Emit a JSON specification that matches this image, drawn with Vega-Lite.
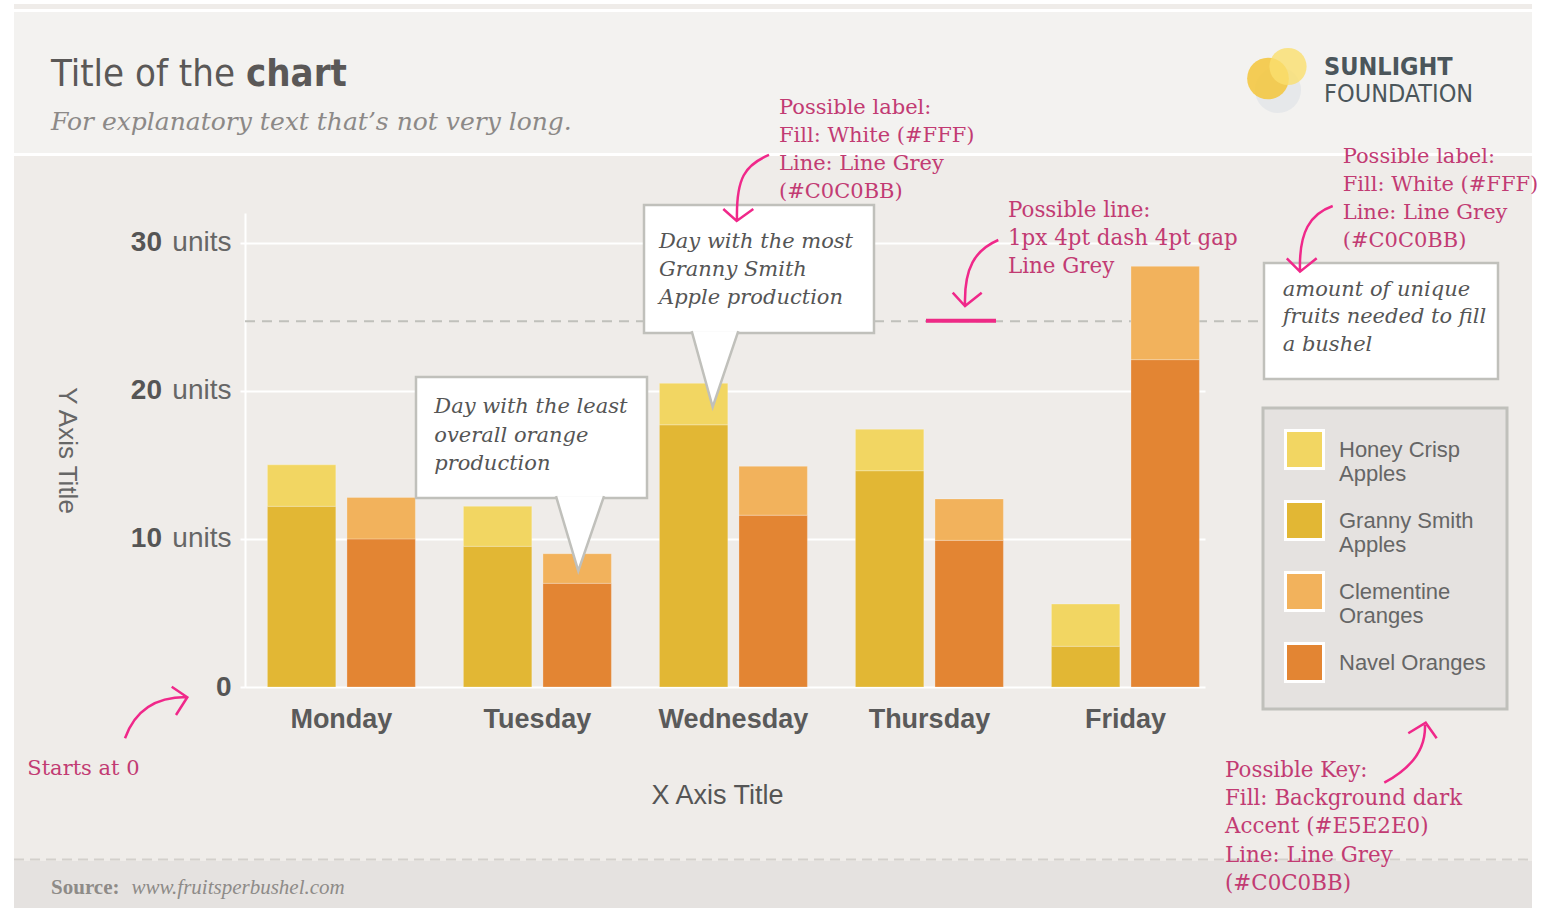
{
  "$schema": "https://vega.github.io/schema/vega-lite/v6.json",
  "width": 960,
  "height": 474,
  "autosize": {"type": "none"},
  "padding": {"left": 245, "top": 213, "right": 345, "bottom": 221},
  "background": "#EFECE9",
  "config": {
    "view": {"stroke": null},
    "legend": {"strokeWidth": 3}
  },
  "datasets": {
    "fruit": [
      {"day": "Monday", "fruit": "Apples", "variety": "Granny Smith Apples", "units": 12.2},
      {"day": "Monday", "fruit": "Apples", "variety": "Honey Crisp Apples", "units": 2.8},
      {"day": "Monday", "fruit": "Oranges", "variety": "Navel Oranges", "units": 10.0},
      {"day": "Monday", "fruit": "Oranges", "variety": "Clementine Oranges", "units": 2.8},
      {"day": "Tuesday", "fruit": "Apples", "variety": "Granny Smith Apples", "units": 9.5},
      {"day": "Tuesday", "fruit": "Apples", "variety": "Honey Crisp Apples", "units": 2.7},
      {"day": "Tuesday", "fruit": "Oranges", "variety": "Navel Oranges", "units": 7.0},
      {"day": "Tuesday", "fruit": "Oranges", "variety": "Clementine Oranges", "units": 2.0},
      {"day": "Wednesday", "fruit": "Apples", "variety": "Granny Smith Apples", "units": 17.7},
      {"day": "Wednesday", "fruit": "Apples", "variety": "Honey Crisp Apples", "units": 2.8},
      {"day": "Wednesday", "fruit": "Oranges", "variety": "Navel Oranges", "units": 11.6},
      {"day": "Wednesday", "fruit": "Oranges", "variety": "Clementine Oranges", "units": 3.3},
      {"day": "Thursday", "fruit": "Apples", "variety": "Granny Smith Apples", "units": 14.6},
      {"day": "Thursday", "fruit": "Apples", "variety": "Honey Crisp Apples", "units": 2.8},
      {"day": "Thursday", "fruit": "Oranges", "variety": "Navel Oranges", "units": 9.9},
      {"day": "Thursday", "fruit": "Oranges", "variety": "Clementine Oranges", "units": 2.8},
      {"day": "Friday", "fruit": "Apples", "variety": "Granny Smith Apples", "units": 2.75},
      {"day": "Friday", "fruit": "Apples", "variety": "Honey Crisp Apples", "units": 2.85},
      {"day": "Friday", "fruit": "Oranges", "variety": "Navel Oranges", "units": 22.1},
      {"day": "Friday", "fruit": "Oranges", "variety": "Clementine Oranges", "units": 6.3}
    ],
    "varieties": [
      {"variety": "Honey Crisp Apples", "keyOrder": 1},
      {"variety": "Granny Smith Apples", "keyOrder": 2},
      {"variety": "Clementine Oranges", "keyOrder": 3},
      {"variety": "Navel Oranges", "keyOrder": 4}
    ]
  },
  "layer": [
    {
      "data": {"values": [{}]},
      "layer": [
        {"mark": {"type": "rect", "fill": "#FFFFFF"}, "encoding": {"x": {"datum": -1.776, "type": "quantitative", "scale": {"domain": [-0.5, 4.4], "nice": false, "zero": false}, "axis": null}, "x2": {"datum": -1.679}, "y": {"datum": 46.72, "type": "quantitative"}, "y2": {"datum": -15.26}}},
        {"mark": {"type": "rect", "fill": "#FFFFFF"}, "encoding": {"x": {"datum": 6.069, "type": "quantitative", "scale": {"domain": [-0.5, 4.4], "nice": false, "zero": false}, "axis": null}, "x2": {"datum": 6.187}, "y": {"datum": 46.72, "type": "quantitative"}, "y2": {"datum": -15.26}}},
        {"mark": {"type": "rect", "fill": "#FFFFFF"}, "encoding": {"x": {"datum": -1.776, "type": "quantitative", "scale": {"domain": [-0.5, 4.4], "nice": false, "zero": false}, "axis": null}, "x2": {"datum": 6.187}, "y": {"datum": 46.72, "type": "quantitative"}, "y2": {"datum": 46.11}}},
        {"mark": {"type": "rect", "fill": "#FFFFFF"}, "encoding": {"x": {"datum": -1.679, "type": "quantitative", "scale": {"domain": [-0.5, 4.4], "nice": false, "zero": false}, "axis": null}, "x2": {"datum": 6.069}, "y": {"datum": 45.77, "type": "quantitative"}, "y2": {"datum": 35.85}}},
        {"mark": {"type": "rect", "fill": "#F3F2F0"}, "encoding": {"x": {"datum": -1.679, "type": "quantitative", "scale": {"domain": [-0.5, 4.4], "nice": false, "zero": false}, "axis": null}, "x2": {"datum": 6.069}, "y": {"datum": 45.57, "type": "quantitative"}, "y2": {"datum": 36.05}}},
        {"mark": {"type": "rect", "fill": "#E5E2E0"}, "encoding": {"x": {"datum": -1.679, "type": "quantitative", "scale": {"domain": [-0.5, 4.4], "nice": false, "zero": false}, "axis": null}, "x2": {"datum": 6.069}, "y": {"datum": -11.75, "type": "quantitative"}, "y2": {"datum": -15.26}}},
        {"mark": {"type": "rule", "stroke": "#D3D0CC", "strokeWidth": 2, "strokeDash": [10, 6]}, "encoding": {"x": {"datum": -1.679, "type": "quantitative", "scale": {"domain": [-0.5, 4.4], "nice": false, "zero": false}, "axis": null}, "x2": {"datum": 6.069}, "y": {"datum": -11.65, "type": "quantitative"}}},
        {"mark": {"type": "rule", "stroke": "#C0C0BB", "strokeWidth": 2, "strokeDash": [10, 7]}, "encoding": {"x": {"datum": -0.5, "type": "quantitative", "scale": {"domain": [-0.5, 4.4], "nice": false, "zero": false}, "axis": null}, "x2": {"datum": 4.701}, "y": {"datum": 24.7, "type": "quantitative"}}}
      ]
    },
    {
      "data": {"name": "fruit"},
      "transform": [
        {"lookup": "variety", "from": {"data": {"name": "varieties"}, "key": "variety", "fields": ["keyOrder"]}}
      ],
      "mark": {"type": "bar", "stroke": "#FFFFFF", "strokeOpacity": 0.25, "strokeWidth": 1},
      "encoding": {
        "x": {
          "field": "day", "type": "nominal",
          "sort": ["Monday", "Tuesday", "Wednesday", "Thursday", "Friday"],
          "scale": {"paddingInner": 0.245, "paddingOuter": 0.0714, "align": 0.8},
          "axis": {
            "title": "X Axis Title", "domain": false, "ticks": false, "tickSize": 0, "grid": false,
            "labelFont": "Liberation Sans", "labelFontSize": 27, "labelFontWeight": "bold", "labelColor": "#5A5A5A",
            "labelBaseline": "middle", "labelPadding": 32, "labelAngle": 0,
            "titleFont": "Liberation Sans", "titleFontSize": 27, "titleFontWeight": "normal", "titleColor": "#555555",
            "titleX": 472, "titleY": 108, "titleAlign": "center", "titleBaseline": "middle"
          }
        },
        "xOffset": {"field": "fruit", "type": "nominal", "scale": {"paddingInner": 0.14, "paddingOuter": 0}},
        "y": {
          "field": "units", "type": "quantitative", "stack": "zero",
          "scale": {"domain": [0, 32], "nice": false},
          "axis": {
            "title": "Y Axis Title", "values": [0, 10, 20, 30],
            "grid": true, "gridColor": "#FFFFFF", "gridWidth": 2, "gridOpacity": 1,
            "domain": true, "domainColor": "#FFFFFF", "domainWidth": 2,
            "ticks": true, "tickColor": "#FFFFFF", "tickWidth": 2, "tickSize": 5,
            "labelExpr": "datum.value == 0 ? '0' : 'units'",
            "labelFont": "Liberation Sans", "labelFontSize": 28,
            "labelFontWeight": {"condition": {"test": "datum.value == 0", "value": "bold"}, "value": "normal"},
            "labelColor": {"condition": {"test": "datum.value == 0", "value": "#555555"}, "value": "#666666"},
            "labelPadding": 9,
            "titleAngle": 90, "titleX": -179, "titleY": 237, "titleAlign": "center", "titleBaseline": "middle",
            "titleFont": "Liberation Sans", "titleFontSize": 26, "titleFontWeight": "normal", "titleColor": "#666666"
          }
        },
        "color": {
          "field": "variety", "type": "nominal",
          "scale": {
            "domain": ["Honey Crisp Apples", "Granny Smith Apples", "Clementine Oranges", "Navel Oranges"],
            "range": ["#F2D662", "#E2B734", "#F2B25C", "#E38533"]
          },
          "legend": {
            "title": null, "orient": "none", "legendX": 1018, "legendY": 195, "direction": "vertical",
            "fillColor": "#E5E2E0", "strokeColor": "#C0C0BB", "padding": 21,
            "symbolType": "square", "symbolSize": 1444, "symbolStrokeColor": "#FFFFFF", "symbolStrokeWidth": 3, "symbolOpacity": 1,
            "labelFont": "Liberation Sans", "labelFontSize": 22, "labelColor": "#666666", "labelOffset": 14, "labelLimit": 220,
            "rowPadding": 10,
            "labelExpr": "datum.label == 'Navel Oranges' ? datum.label : [substring(datum.label, 0, lastindexof(datum.label, ' ')), substring(datum.label, lastindexof(datum.label, ' ') + 1)]"
          }
        },
        "order": {"field": "keyOrder", "sort": "descending"}
      }
    },
    {
      "data": {"values": [{}]},
      "layer": [
        {"mark": {"type": "rect", "fill": "#FFFFFF", "stroke": "#C0C0BB", "strokeWidth": 2.5}, "encoding": {"x": {"datum": 1.5366, "type": "quantitative", "scale": {"domain": [-0.5, 4.4], "nice": false, "zero": false}, "axis": null}, "x2": {"datum": 2.7105}, "y": {"datum": 32.54, "type": "quantitative"}, "y2": {"datum": 23.9}}},
        {"mark": {"type": "point", "shape": "M-0.63,-1.05L-0.062,1L0.63,-1.05", "size": 5476, "filled": true, "fill": "#FFFFFF", "stroke": "#C0C0BB", "strokeWidth": 2.5, "opacity": 1}, "encoding": {"x": {"datum": 1.8989, "type": "quantitative", "scale": {"domain": [-0.5, 4.4], "nice": false, "zero": false}, "axis": null}, "y": {"datum": 21.4, "type": "quantitative"}}},
        {"mark": {"type": "rect", "fill": "#FFFFFF", "stroke": "#C0C0BB", "strokeWidth": 2.5}, "encoding": {"x": {"datum": 0.3728, "type": "quantitative", "scale": {"domain": [-0.5, 4.4], "nice": false, "zero": false}, "axis": null}, "x2": {"datum": 1.5519}, "y": {"datum": 20.93, "type": "quantitative"}, "y2": {"datum": 12.76}}},
        {"mark": {"type": "point", "shape": "M-0.66,-1.05L-0.047,1L0.66,-1.05", "size": 5299, "filled": true, "fill": "#FFFFFF", "stroke": "#C0C0BB", "strokeWidth": 2.5, "opacity": 1}, "encoding": {"x": {"datum": 1.2099, "type": "quantitative", "scale": {"domain": [-0.5, 4.4], "nice": false, "zero": false}, "axis": null}, "y": {"datum": 10.3, "type": "quantitative"}}},
        {"mark": {"type": "rect", "fill": "#FFFFFF", "stroke": "#C0C0BB", "strokeWidth": 2.5}, "encoding": {"x": {"datum": 4.7011, "type": "quantitative", "scale": {"domain": [-0.5, 4.4], "nice": false, "zero": false}, "axis": null}, "x2": {"datum": 5.8955}, "y": {"datum": 28.62, "type": "quantitative"}, "y2": {"datum": 20.79}}},
        {"mark": {"type": "text", "text": ["Day with the most", "Granny Smith", "Apple production"], "align": "left", "baseline": "alphabetic", "font": "DejaVu Serif", "fontStyle": "italic", "fontSize": 21, "lineHeight": 28, "color": "#555555"}, "encoding": {"x": {"datum": 1.6131, "type": "quantitative", "scale": {"domain": [-0.5, 4.4], "nice": false, "zero": false}, "axis": null}, "y": {"datum": 29.62, "type": "quantitative"}}},
        {"mark": {"type": "text", "text": ["Day with the least", "overall orange", "production"], "align": "left", "baseline": "alphabetic", "font": "DejaVu Serif", "fontStyle": "italic", "fontSize": 21, "lineHeight": 28.5, "color": "#555555"}, "encoding": {"x": {"datum": 0.4662, "type": "quantitative", "scale": {"domain": [-0.5, 4.4], "nice": false, "zero": false}, "axis": null}, "y": {"datum": 18.48, "type": "quantitative"}}},
        {"mark": {"type": "text", "text": ["amount of unique", "fruits needed to fill", "a bushel"], "align": "left", "baseline": "alphabetic", "font": "DejaVu Serif", "fontStyle": "italic", "fontSize": 21, "lineHeight": 27.5, "color": "#555555"}, "encoding": {"x": {"datum": 4.7966, "type": "quantitative", "scale": {"domain": [-0.5, 4.4], "nice": false, "zero": false}, "axis": null}, "y": {"datum": 26.42, "type": "quantitative"}}},
        {"mark": {"type": "rule", "stroke": "#EE2A86", "strokeWidth": 4}, "encoding": {"x": {"datum": 2.9759, "type": "quantitative", "scale": {"domain": [-0.5, 4.4], "nice": false, "zero": false}, "axis": null}, "x2": {"datum": 3.3332}, "y": {"datum": 24.72, "type": "quantitative"}}},
        {"mark": {"type": "text", "text": ["Possible label:", "Fill: White (#FFF)", "Line: Line Grey", "(#C0C0BB)"], "align": "left", "baseline": "alphabetic", "font": "DejaVu Serif", "fontSize": 21, "lineHeight": 28, "color": "#C23B73"}, "encoding": {"x": {"datum": 2.2256, "type": "quantitative", "scale": {"domain": [-0.5, 4.4], "nice": false, "zero": false}, "axis": null}, "y": {"datum": 38.68, "type": "quantitative"}}},
        {"mark": {"type": "text", "text": ["Possible line:", "1px 4pt dash 4pt gap", "Line Grey"], "align": "left", "baseline": "alphabetic", "font": "DejaVu Serif", "fontSize": 21.4, "lineHeight": 28, "color": "#C23B73"}, "encoding": {"x": {"datum": 3.3944, "type": "quantitative", "scale": {"domain": [-0.5, 4.4], "nice": false, "zero": false}, "axis": null}, "y": {"datum": 31.75, "type": "quantitative"}}},
        {"mark": {"type": "text", "text": ["Possible label:", "Fill: White (#FFF)", "Line: Line Grey", "(#C0C0BB)"], "align": "left", "baseline": "alphabetic", "font": "DejaVu Serif", "fontSize": 21, "lineHeight": 27.8, "color": "#C23B73"}, "encoding": {"x": {"datum": 5.1028, "type": "quantitative", "scale": {"domain": [-0.5, 4.4], "nice": false, "zero": false}, "axis": null}, "y": {"datum": 35.36, "type": "quantitative"}}},
        {"mark": {"type": "text", "text": "Starts at 0", "align": "left", "baseline": "alphabetic", "font": "DejaVu Serif", "fontSize": 21, "color": "#C23B73"}, "encoding": {"x": {"datum": -1.6112, "type": "quantitative", "scale": {"domain": [-0.5, 4.4], "nice": false, "zero": false}, "axis": null}, "y": {"datum": -5.941, "type": "quantitative"}}},
        {"mark": {"type": "text", "text": ["Possible Key:", "Fill: Background dark", "Accent (#E5E2E0)", "Line: Line Grey", "(#C0C0BB)"], "align": "left", "baseline": "alphabetic", "font": "DejaVu Serif", "fontSize": 21.4, "lineHeight": 28.3, "color": "#C23B73"}, "encoding": {"x": {"datum": 4.5021, "type": "quantitative", "scale": {"domain": [-0.5, 4.4], "nice": false, "zero": false}, "axis": null}, "y": {"datum": -6.056, "type": "quantitative"}}},
        {"mark": {"type": "point", "shape": "M0.697,-1C-0.03,-0.697,-0.303,-0.303,-0.273,0.97M-0.688,0.636L-0.282,1L0.221,0.636", "size": 4356, "filled": false, "stroke": "#F0288A", "strokeWidth": 2.5, "opacity": 1}, "encoding": {"x": {"datum": 2.0572, "type": "quantitative", "scale": {"domain": [-0.5, 4.4], "nice": false, "zero": false}, "axis": null}, "y": {"datum": 33.69, "type": "quantitative"}}},
        {"mark": {"type": "point", "shape": "M0.691,-1C-0.015,-0.697,-0.348,-0.152,-0.318,0.97M-0.691,0.597L-0.318,1L0.188,0.597", "size": 4356, "filled": false, "stroke": "#F0288A", "strokeWidth": 2.5, "opacity": 1}, "encoding": {"x": {"datum": 3.2286, "type": "quantitative", "scale": {"domain": [-0.5, 4.4], "nice": false, "zero": false}, "axis": null}, "y": {"datum": 27.95, "type": "quantitative"}}},
        {"mark": {"type": "point", "shape": "M0.697,-0.995C0.009,-0.753,-0.324,-0.208,-0.294,0.944M-0.694,0.589L-0.294,0.995L0.212,0.589", "size": 4356, "filled": false, "stroke": "#F0288A", "strokeWidth": 2.5, "opacity": 1}, "encoding": {"x": {"datum": 4.9344, "type": "quantitative", "scale": {"domain": [-0.5, 4.4], "nice": false, "zero": false}, "axis": null}, "y": {"datum": 30.255, "type": "quantitative"}}},
        {"mark": {"type": "point", "shape": "M-0.989,0.819C-0.671,-0.079,-0.037,-0.492,0.948,-0.492M0.494,-0.819L0.989,-0.483L0.63,0.079", "size": 3969, "filled": false, "stroke": "#F0288A", "strokeWidth": 2.5, "opacity": 1}, "encoding": {"x": {"datum": -0.9535, "type": "quantitative", "scale": {"domain": [-0.5, 4.4], "nice": false, "zero": false}, "axis": null}, "y": {"datum": -1.72, "type": "quantitative"}}},
        {"mark": {"type": "point", "shape": "M-0.873,1C-0.083,0.577,0.517,-0.023,0.483,-0.923M-0.073,-0.647L0.507,-1L0.873,-0.48", "size": 3600, "filled": false, "stroke": "#F0288A", "strokeWidth": 2.5, "opacity": 1}, "encoding": {"x": {"datum": 5.4488, "type": "quantitative", "scale": {"domain": [-0.5, 4.4], "nice": false, "zero": false}, "axis": null}, "y": {"datum": -4.435, "type": "quantitative"}}},
        {
          "data": {"values": [{"tick": 10}, {"tick": 20}, {"tick": 30}]},
          "mark": {"type": "text", "align": "right", "baseline": "middle", "font": "Liberation Sans", "fontWeight": "bold", "fontSize": 28, "color": "#555555"},
          "encoding": {"x": {"datum": -0.9237, "type": "quantitative", "scale": {"domain": [-0.5, 4.4], "nice": false, "zero": false}, "axis": null}, "y": {"field": "tick", "type": "quantitative"}, "text": {"field": "tick", "type": "quantitative"}}
        },
        {"mark": {"type": "text", "text": "Title of the", "align": "left", "baseline": "alphabetic", "font": "Liberation Sans Narrow, DejaVu Sans Condensed, sans-serif", "fontSize": 38, "fontWeight": "normal", "color": "#5A5857"}, "encoding": {"x": {"datum": -1.4901, "type": "quantitative", "scale": {"domain": [-0.5, 4.4], "nice": false, "zero": false}, "axis": null}, "y": {"datum": 40.57, "type": "quantitative"}}},
        {"mark": {"type": "text", "text": "chart", "align": "left", "baseline": "alphabetic", "font": "Liberation Sans Narrow, DejaVu Sans Condensed, sans-serif", "fontSize": 38, "fontWeight": "bold", "color": "#5A5857"}, "encoding": {"x": {"datum": -0.4948, "type": "quantitative", "scale": {"domain": [-0.5, 4.4], "nice": false, "zero": false}, "axis": null}, "y": {"datum": 40.57, "type": "quantitative"}}},
        {"mark": {"type": "text", "text": "For explanatory text that’s not very long.", "align": "left", "baseline": "alphabetic", "font": "DejaVu Serif", "fontStyle": "italic", "fontSize": 25, "color": "#8C8987"}, "encoding": {"x": {"datum": -1.4901, "type": "quantitative", "scale": {"domain": [-0.5, 4.4], "nice": false, "zero": false}, "axis": null}, "y": {"datum": 37.6, "type": "quantitative"}}},
        {"mark": {"type": "point", "shape": "circle", "size": 2124, "filled": true, "fill": "#E6E8EA", "opacity": 1}, "encoding": {"x": {"datum": 4.7726, "type": "quantitative", "scale": {"domain": [-0.5, 4.4], "nice": false, "zero": false}, "axis": null}, "y": {"datum": 40.3, "type": "quantitative"}}},
        {"mark": {"type": "point", "shape": "circle", "size": 1735, "filled": true, "fill": "#F4C63F", "opacity": 0.88}, "encoding": {"x": {"datum": 4.7215, "type": "quantitative", "scale": {"domain": [-0.5, 4.4], "nice": false, "zero": false}, "axis": null}, "y": {"datum": 41.08, "type": "quantitative"}}},
        {"mark": {"type": "point", "shape": "circle", "size": 1385, "filled": true, "fill": "#FADF6E", "opacity": 0.8}, "encoding": {"x": {"datum": 4.8236, "type": "quantitative", "scale": {"domain": [-0.5, 4.4], "nice": false, "zero": false}, "axis": null}, "y": {"datum": 41.89, "type": "quantitative"}}},
        {"mark": {"type": "text", "text": "SUNLIGHT", "align": "left", "baseline": "alphabetic", "font": "Liberation Sans Narrow, DejaVu Sans Condensed, sans-serif", "fontSize": 25, "fontWeight": "bold", "color": "#4B565B"}, "encoding": {"x": {"datum": 5.0075, "type": "quantitative", "scale": {"domain": [-0.5, 4.4], "nice": false, "zero": false}, "axis": null}, "y": {"datum": 41.32, "type": "quantitative"}}},
        {"mark": {"type": "text", "text": "FOUNDATION", "align": "left", "baseline": "alphabetic", "font": "Liberation Sans Narrow, DejaVu Sans Condensed, sans-serif", "fontSize": 25, "fontWeight": "normal", "color": "#4B565B"}, "encoding": {"x": {"datum": 5.0075, "type": "quantitative", "scale": {"domain": [-0.5, 4.4], "nice": false, "zero": false}, "axis": null}, "y": {"datum": 39.51, "type": "quantitative"}}},
        {"mark": {"type": "text", "text": "Source:", "align": "left", "baseline": "alphabetic", "font": "Liberation Serif", "fontSize": 21, "fontWeight": "bold", "color": "#8E8B88"}, "encoding": {"x": {"datum": -1.4901, "type": "quantitative", "scale": {"domain": [-0.5, 4.4], "nice": false, "zero": false}, "axis": null}, "y": {"datum": -13.975, "type": "quantitative"}}},
        {"mark": {"type": "text", "text": "www.fruitsperbushel.com", "align": "left", "baseline": "alphabetic", "font": "Liberation Serif", "fontSize": 21, "fontStyle": "italic", "color": "#8E8B88"}, "encoding": {"x": {"datum": -1.0788, "type": "quantitative", "scale": {"domain": [-0.5, 4.4], "nice": false, "zero": false}, "axis": null}, "y": {"datum": -13.975, "type": "quantitative"}}}
      ]
    }
  ],
  "resolve": {"scale": {"x": "independent"}}
}
